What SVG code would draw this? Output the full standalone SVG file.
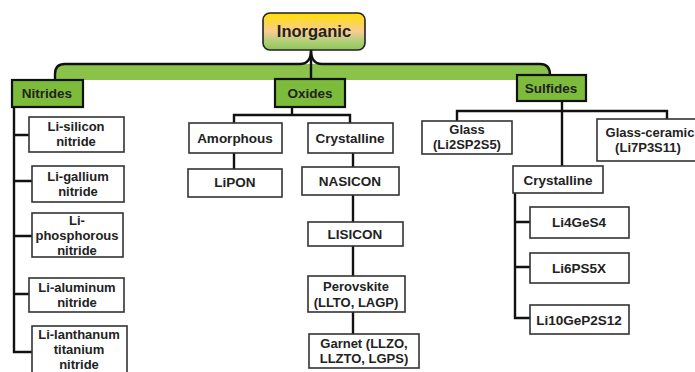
<svg xmlns="http://www.w3.org/2000/svg" width="695" height="372" viewBox="0 0 695 372">
<defs>
<linearGradient id="gInorg" x1="0" y1="0" x2="0" y2="1">
<stop offset="0" stop-color="#FFE000"/>
<stop offset="0.5" stop-color="#F8CC92"/>
<stop offset="0.8" stop-color="#A9CF73"/>
<stop offset="1" stop-color="#8FC45A"/>
</linearGradient>
<style>
.box{fill:#fff;stroke:#333;stroke-width:1.6}
.gbox{fill:#7DBB3A;stroke:#111;stroke-width:2.2}
.t{font-family:"Liberation Sans",Arial,sans-serif;font-weight:bold;font-size:13.5px;fill:#222;text-anchor:middle}
.s{font-size:13px}
.conn{fill:none;stroke:#111;stroke-width:2.4}
</style>
</defs>
<rect width="695" height="372" fill="#fff"/>
<g id="connectors">
<path d="M55,80 L55,74 Q55,64 65,64 L540,64 Q550,64 550,75 L550,80 Z" fill="#8BC34A"/>
<path class="conn" d="M55,80 L55,74 Q55,64 65,64 L300,64 Q311,64 311,50 Q311,64 322,64 L540,64 Q550,64 550,75"/>
<line class="conn" x1="311" y1="50" x2="311" y2="79"/>
<path class="conn" d="M14,107 L14,352 L32,352 M14,135 L29,135 M14,181 L32,181 M14,236 L32,236 M14,294 L29,294"/>
<path class="conn" d="M292,107 L292,115 M234,123 L234,115 L350,115 L350,123"/>
<line class="conn" x1="234" y1="153" x2="234" y2="169"/>
<line class="conn" x1="353" y1="153" x2="353" y2="334"/>
<path class="conn" d="M457,121 L457,111 L667,111 L667,119 M562,101 L562,166"/>
<path class="conn" d="M515,193 L515,318 L530,318 M515,222 L530,222 M515,267 L530,267"/>
</g>
<g id="inorganic">
<rect x="263" y="13" width="102" height="37" rx="7" fill="url(#gInorg)" stroke="#222" stroke-width="1.6"/>
<text class="t" x="314" y="37" style="font-size:16.5px">Inorganic</text>
</g>
<g id="nitrides"><rect class="gbox" x="12" y="80" width="71" height="27"/><text class="t" x="47" y="98">Nitrides</text></g>
<g id="oxides"><rect class="gbox" x="275" y="79" width="70" height="28"/><text class="t" x="310" y="98">Oxides</text></g>
<g id="sulfides"><rect class="gbox" x="517" y="75" width="69" height="26"/><text class="t" x="551" y="93">Sulfides</text></g>
<g id="li-silicon"><rect class="box" x="29" y="117" width="95" height="35"/><text class="t s" x="76" y="131">Li-silicon<tspan x="76" dy="15">nitride</tspan></text></g>
<g id="li-gallium"><rect class="box" x="32" y="166" width="92" height="36"/><text class="t s" x="78" y="181">Li-gallium<tspan x="78" dy="15">nitride</tspan></text></g>
<g id="li-phosphorous"><rect class="box" x="32" y="213" width="91" height="44"/><text class="t s" x="77" y="225">Li-<tspan x="77" dy="15">phosphorous</tspan><tspan x="77" dy="15">nitride</tspan></text></g>
<g id="li-aluminum"><rect class="box" x="29" y="278" width="95" height="34"/><text class="t s" x="77" y="292">Li-aluminum<tspan x="77" dy="15">nitride</tspan></text></g>
<g id="li-lanthanum"><rect class="box" x="32" y="326" width="95" height="50"/><text class="t s" x="79" y="339">Li-lanthanum<tspan x="79" dy="15">titanium</tspan><tspan x="79" dy="14.8">nitride</tspan></text></g>
<g id="amorphous"><rect class="box" x="189" y="123" width="93" height="30"/><text class="t" x="235" y="143">Amorphous</text></g>
<g id="crystalline-ox"><rect class="box" x="308" y="123" width="85" height="30"/><text class="t" x="350" y="143">Crystalline</text></g>
<g id="lipon"><rect class="box" x="188" y="169" width="94" height="28"/><text class="t" x="235" y="187">LiPON</text></g>
<g id="nasicon"><rect class="box" x="302" y="167" width="97" height="28"/><text class="t" x="350" y="186">NASICON</text></g>
<g id="lisicon"><rect class="box" x="308" y="222" width="95" height="24"/><text class="t" x="355" y="239">LISICON</text></g>
<g id="perovskite"><rect class="box" x="308" y="276" width="97" height="36"/><text class="t s" x="356" y="291">Perovskite<tspan x="356" dy="16">(LLTO, LAGP)</tspan></text></g>
<g id="garnet"><rect class="box" x="309" y="334" width="110" height="34"/><text class="t s" x="364" y="348">Garnet (LLZO,<tspan x="364" dy="15">LLZTO, LGPS)</tspan></text></g>
<g id="glass"><rect class="box" x="422" y="121" width="90" height="33"/><text class="t s" x="467" y="134">Glass<tspan x="467" dy="15">(Li2SP2S5)</tspan></text></g>
<g id="glass-ceramic"><rect class="box" x="597" y="119" width="106" height="42"/><text class="t s" x="650" y="137">Glass-ceramic<tspan x="648" dy="15">(Li7P3S11)</tspan></text></g>
<g id="crystalline-s"><rect class="box" x="513" y="166" width="90" height="27"/><text class="t" x="558" y="185">Crystalline</text></g>
<g id="li4ges4"><rect class="box" x="530" y="207" width="99" height="31"/><text class="t" x="579" y="227">Li4GeS4</text></g>
<g id="li6ps5x"><rect class="box" x="530" y="253" width="99" height="30"/><text class="t" x="579" y="273">Li6PS5X</text></g>
<g id="li10gep2s12"><rect class="box" x="530" y="305" width="99" height="29"/><text class="t" x="579" y="325">Li10GeP2S12</text></g>
</svg>
